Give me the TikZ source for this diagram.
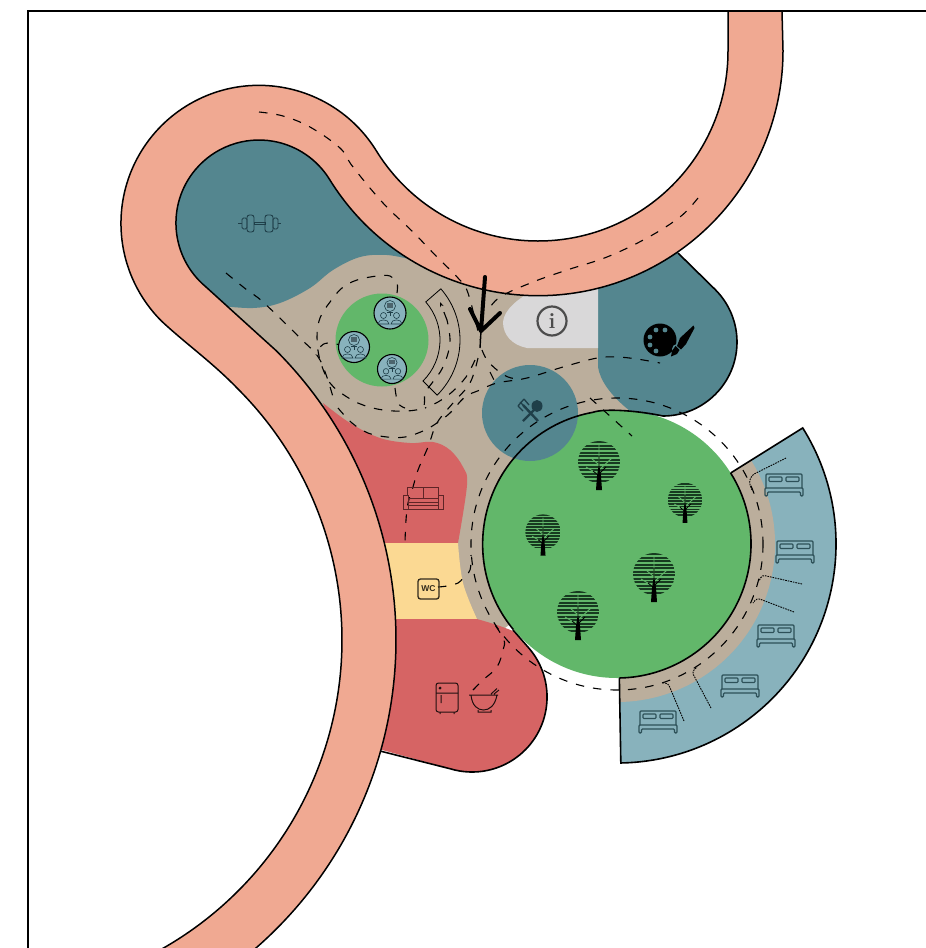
\documentclass[tikz,border=0pt]{standalone}
\usepackage{fontspec}
\setsansfont{Liberation Sans}
\definecolor{roadc}{HTML}{F0A992}
\definecolor{tealc}{HTML}{54868F}
\definecolor{beigec}{HTML}{BBAE9C}
\definecolor{gardenc}{HTML}{62B76A}
\definecolor{redc}{HTML}{D66464}
\definecolor{yellowc}{HTML}{FBD993}
\definecolor{bluec}{HTML}{88B2BC}
\definecolor{grayc}{HTML}{D9D8D9}
\definecolor{iconc}{HTML}{1F3F49}
\definecolor{bedc}{HTML}{2D5058}
\definecolor{sofac}{HTML}{5E2426}
\definecolor{treec}{HTML}{173A20}
\usetikzlibrary{arrows.meta}
\tikzset{
  treeicon/.pic={
    \begin{scope}
      \clip (0,0) circle (21pt);
      \foreach \sy in {-21,-17.5,...,21}{
        \fill[treec] (-21,\sy) rectangle (21,\sy+2.1);
      }
    \end{scope}
    \draw[gardenc, line width=.9pt] (0,-17) -- (0,3) (0,8) -- (13,-4) (-1,12) -- (-13,5) (-1,2) -- (-8,-4);
    \draw[black, line width=.8pt] (0,-6) -- (0,10) (1,11) -- (7,5) (-1,13) -- (-6,9);
    \fill[black] (-3,28) -- (3,28) -- (2,14) -- (.8,6) -- (-.8,6) -- (-2,14) -- cycle;
  },
  bedicon/.pic={
    \draw[bedc, line width=1.2pt, rounded corners=1pt] (-18,3) -- (-18,-11) -- (18,-11) -- (18,3);
    \draw[bedc, line width=1.2pt, rounded corners=1pt] (-19,11) -- (-19,3) -- (19,3) -- (19,11) -- (16.5,11) -- (16.5,7) -- (-16.5,7) -- (-16.5,11) -- cycle;
    \draw[bedc, line width=1.1pt, rounded corners=.8pt] (-15,-8) rectangle (-2,-3.5) (2,-8) rectangle (15,-3.5);
  },
  meeticon/.pic={
    \foreach \ax in {-6.5,6.5}{
      \draw[iconc, line width=.6pt] (\ax,2.5) circle (3pt);
      \draw[iconc, line width=.6pt] (\ax-5.5,11) .. controls (\ax-5.5,5.5) and (\ax+5.5,5.5) .. (\ax+5.5,11) -- cycle;
    }
    \draw[iconc, line width=.6pt] (0,-7) circle (5.5pt);
    \fill[iconc!80] (-3,-10) rectangle (3,-5);
    \draw[iconc, line width=.6pt] (-3,-1) -- (3,-1) (0,-1.5) -- (0,3);
  },
}
\begin{document}
\begin{tikzpicture}[
  x=1pt, y=1pt, yscale=-1,
  every pic/.style={yscale=-1},
  outline/.style={draw=black, line width=1.6pt},
  walk/.style={black, line width=1.1pt, dash pattern=on 8.5pt off 9pt},
  dotwalk/.style={black, line width=.9pt, dash pattern=on 1.6pt off 1pt, rounded corners=3pt},
  smallroom/.style={fill=bluec, draw=black, line width=1.1pt},
]
\useasboundingbox (0,0) rectangle (926,948);
\clip (0,0) rectangle (926,948);
\fill[white] (0,0) rectangle (926,948);

\fill[beigec] (215,305) -- (300,230) -- (420,235) -- (620,285) -- (640,412) -- (617,544) -- (505,628) -- (470,625) -- (400,560) -- (320,410) -- cycle;

\begin{scope}[shift={(617,544)}]
  \fill[bluec] (-32:134) -- (-32:219) arc[start angle=-32, end angle=89, radius=219pt] -- (89:134) arc[start angle=89, end angle=-32, radius=134pt] -- cycle;
  \fill[beigec] (-32:134) -- (-32:158) arc[start angle=-32, end angle=89, radius=158pt] -- (89:134) arc[start angle=89, end angle=-32, radius=134pt] -- cycle;
  \draw[outline] (-32:134) -- (-32:219) arc[start angle=-32, end angle=89, radius=219pt] -- (89:134);
\end{scope}

\fill[gardenc] (617,544) circle (134pt);

\fill[redc] plot[smooth, tension=.6] coordinates {(323,403) (350,423) (380,438) (410,443) (433,442) (450,450) (463,467) (467,485) (458,543)} -- (370,543) -- cycle;
\fill[yellowc] plot[smooth, tension=.6] coordinates {(458,543) (463,583) (477,619)} -- (370,619) -- (370,543) -- cycle;
\fill[redc] plot[smooth, tension=.6] coordinates {(477,619) (497,625) (513,631)} -- (529.5,648.8) arc[start angle=-40, end angle=107, radius=75pt] -- (375,748) -- (370,619) -- cycle;

\fill[tealc] plot[smooth, tension=.6] coordinates {(222,306) (253,308) (280,303) (310,288) (333,270) (360,257) (387,255) (413,260)} -- (420,230) -- (340,172) arc[start angle=-32, end angle=-230, radius=100pt] -- cycle;

\fill[tealc] (598,285) -- (598,367) .. controls (600,380) and (610,395) .. (630,411) .. controls (640,412) and (650,416) .. (663,416) arc[start angle=90, end angle=-45, radius=74pt] -- (675,250) -- cycle;

\fill[grayc] (598,285) -- (598,348) -- (527,348) .. controls (512,345) and (503,335) .. (503,322) .. controls (504,310) and (518,298) .. (535,290) -- cycle;

\fill[tealc] (530,413) circle (48pt);
\fill[gardenc] (382,340) circle (46.5pt);

\draw[fill=roadc, outline, line width=1.5pt] (728,11) -- (728,51) arc[start angle=0, end angle=148.3, radius=190pt] arc[start angle=-31.7, end angle=-225, radius=138pt] .. controls (186,344) and (212,362) .. (238,389) arc[start angle=-45, end angle=62, radius=355pt] -- (179,1001) arc[start angle=62, end angle=-45, radius=409pt] .. controls (250,327) and (227,306) .. (205.6,286.6) arc[start angle=130, end angle=328.3, radius=83pt] arc[start angle=148.3, end angle=0, radius=245pt] -- (782,11) -- cycle;

\draw[outline] (617,544) ++(-32:134) arc[start angle=-32, end angle=89, radius=134pt];
\draw[outline] (513,630) -- (529.5,648.8) arc[start angle=-40, end angle=107, radius=75pt] -- (380,751);
\draw[outline] (513.4,629.6) arc[start angle=140.4, end angle=259.7, radius=134pt] .. controls (605,408) and (640,411) .. (663,416) arc[start angle=90, end angle=-45, radius=74pt] -- (678,253);

\draw[black, line width=.8pt] (382,340) ++(-41:78) arc[start angle=-41, end angle=45, radius=78pt] -- ++(225:20) arc[start angle=45, end angle=-41, radius=58pt] -- cycle;

\draw[walk] (617,544) circle (146pt);
\draw[walk] plot[smooth, tension=.6] coordinates {(259,112) (283,116) (310,127) (340,148) (353,167) (383,203) (413,232) (437,257) (458,278) (468,293) (480,340)};
\draw[walk] plot[smooth, tension=.6] coordinates {(698,198) (680,217) (647,238) (607,257) (567,270) (533,282) (500,297) (487,312)};
\draw[walk] plot[smooth, tension=.6] coordinates {(226,273) (247,290) (263,302) (300,338) (320,360) (333,397)};
\draw[walk] plot[smooth, tension=.6] coordinates {(397,293) (397,283) (390,276) (377,276) (357,280) (342,288) (330,302) (320,318) (317,337) (320,360) (330,383) (347,397) (363,405) (383,410) (407,411) (423,407) (425,393) (432,383) (443,367) (450,343) (447,320)};
\draw[walk, -{Stealth[length=5pt]}] (447,320) -- (440,302);
\draw[walk] plot[smooth, tension=.6] coordinates {(345,346) (328,343) (320,347) (316,355)};
\draw[walk] plot[smooth, tension=.6] coordinates {(395,388) (398,403) (405,408)};
\draw[walk] plot[smooth, tension=.6] coordinates {(338,408) (352,423) (368,433) (387,437) (405,437) (423,431) (437,423) (450,413) (465,397) (480,390) (497,383) (527,378) (563,367) (597,358) (617,357) (637,359) (660,363)};
\draw[walk] plot[smooth, tension=.6] coordinates {(482,350) (487,360) (497,370) (508,377) (518,379)};
\draw[walk] (490,372) -- (496,384);
\draw[walk] plot[smooth, tension=.6] coordinates {(478,358) (470,383) (453,403) (437,423) (428,447) (418,470) (413,487) (408,503) (406,520) (405,542)};
\draw[walk] plot[smooth, tension=.6] coordinates {(475,360) (466,377) (452,392) (438,402) (425,408)};
\draw[walk] (590,398) -- (632,436);
\draw[walk] plot[smooth, tension=.6] coordinates {(438,587) (447,586) (458,583) (463,578) (470,570) (471,555)};
\draw[walk] plot[smooth, tension=.6] coordinates {(473,690) (483,680) (497,667) (503,650) (504,640) (495,625)};

\draw[dotwalk] (786,458) -- (752,475) -- (749,482) -- (752,490);
\draw[dotwalk] (802,584) -- (762,575) -- (759,581);
\draw[dotwalk] (794,612) -- (757,598) -- (753,603);
\draw[dotwalk] (711,708) -- (692,672) -- (697,667);
\draw[dotwalk] (684,721) -- (668,683) -- (662,683);

\pic at (784,485) {bedicon};
\pic at (795,552) {bedicon};
\pic at (776,636) {bedicon};
\pic at (740,686) {bedicon};
\pic at (658,722) {bedicon};

\pic at (599,462) {treeicon};
\pic[scale=.82] at (685,500) {treeicon};
\pic[scale=.84] at (543,532) {treeicon};
\pic at (654,574) {treeicon};
\pic at (578,612) {treeicon};

\draw[smallroom] (390,313) circle (16pt);
\draw[smallroom] (354,347) circle (15.5pt);
\draw[smallroom] (392,369) circle (14.5pt);
\pic at (390,313) {meeticon};
\pic at (354,347) {meeticon};
\pic[scale=.92] at (392,369) {meeticon};

\draw[iconc, line width=.9pt] (254,222) rectangle (265,224.5);
\draw[iconc, line width=.9pt, rounded corners=2.5pt] (247,215) rectangle (254,232) (265,215) rectangle (273,232);
\draw[iconc, line width=.9pt, rounded corners=1.5pt] (242,218) rectangle (247,229) (273,218) rectangle (278,229);
\draw[iconc, line width=.9pt] (242,223.5) -- (238,223.5) (278,223.5) -- (281,223.5);

\draw[fill=none, draw=black!70, line width=2.2pt] (552,321) circle (14.5pt);
\node[font=\bfseries\fontsize{22}{22}\selectfont, text=black!70, inner sep=0pt] (infomark) at (552,321) {i};

\fill[black] (660,340) circle (16.5pt);
\fill[tealc] (677,349) circle (5pt);
\foreach \dx/\dy in {656/330, 665/330, 650/337, 650/345, 656/351}{
  \fill[tealc] (\dx,\dy) circle (2.4pt);
}
\fill[black] (693.5,325.5) -- (694.5,328) -- (686,344) -- (681,349.5) -- (677,346) -- (680,338) -- cycle;
\fill[black] (675.5,346) -- (679.5,350) -- (677,354) -- (671,356.5) -- (672,351) -- cycle;

\draw[iconc, line width=2.4pt] (538,421) -- (523,405) (523,421) -- (536,408);
\draw[iconc, line width=1.3pt] (520,402) -- (526,408) (518,406) -- (523,411) (524,399) -- (529,405) (518,406) -- (524,399);
\fill[iconc] (537,406) ellipse (5.5pt and 6pt);

\draw[sofac, line width=.8pt] (407,495) -- (407,487) -- (438,487) -- (438,495) (423,487) -- (423,498);
\draw[sofac, line width=.8pt] (403,495) rectangle (408,509) (438,495) rectangle (443,509);
\draw[sofac, line width=.8pt] (408,498) -- (438,498) (408,502) -- (438,502) (408,505) -- (438,505) (403,509) -- (443,509);

\draw[black!80!yellowc, line width=1.3pt, rounded corners=2.5pt] (418,579) rectangle (439,599);
\node[font=\sffamily\bfseries\fontsize{8.5}{8.5}\selectfont, text=black!80!yellowc, inner sep=0pt] (wcmark) at (428.5,589) {WC};

\draw[black!85!redc, line width=1pt, rounded corners=2.5pt] (436,683) rectangle (458,712);
\draw[black!85!redc, line width=1pt] (436,693) -- (458,693) (441,695) -- (441,703) (440,688) circle (.8pt) (440,712) -- (440,714) (454,712) -- (454,714);
\draw[black!85!redc, line width=1pt] (469,695) -- (498,695) (471,695) .. controls (472,706) and (478,710) .. (483.5,710) .. controls (489,710) and (495,706) .. (497,695) (478,710) -- (478,712) -- (491,712) -- (491,710) (491,694) -- (497,688.5) (494,694) -- (499,690);

\draw[black, line width=4pt, line cap=round, line join=round] (485,277) -- (481,331) (470,309) -- (481,331) -- (500,313);
\draw[black, line width=1.4pt] (481,331) -- (480,348);

\draw[black, line width=2.8pt] (926,11) -- (28,11) -- (28,948);
\end{tikzpicture}
\end{document}
